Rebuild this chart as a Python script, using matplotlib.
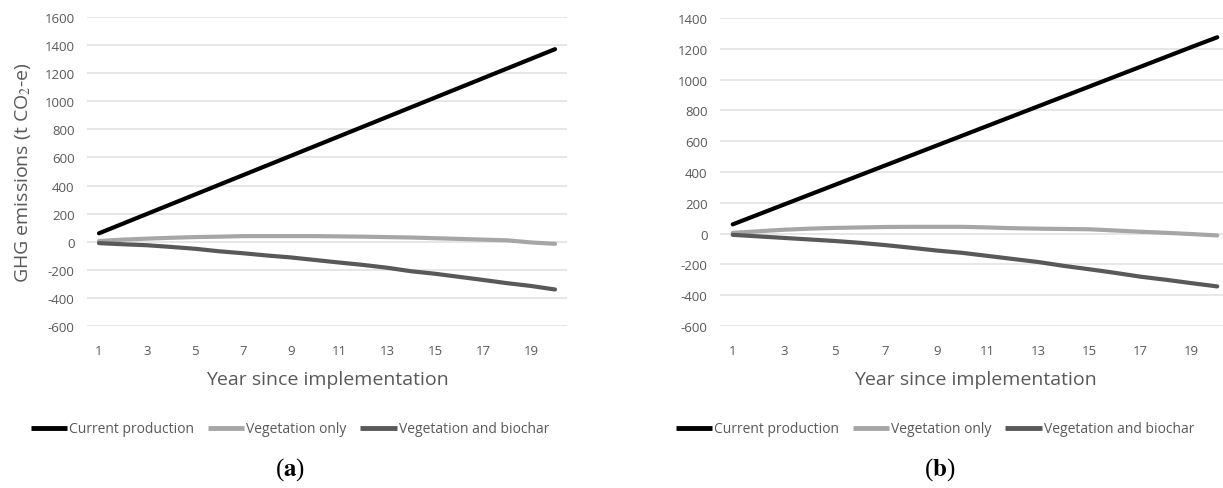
import numpy as np
import matplotlib.pyplot as plt
from matplotlib.lines import Line2D

# years since implementation
years = np.arange(1, 21)
tick_years = [1, 3, 5, 7, 9, 11, 13, 15, 17, 19]

# panel (a)
current_a = [60, 129, 198, 267, 336, 405, 474, 543, 612, 681,
             750, 819, 888, 957, 1026, 1095, 1164, 1233, 1302, 1371]
veg_a = [5, 15, 22, 28, 33, 36, 40, 40, 40, 40,
         38, 36, 33, 30, 25, 20, 15, 10, -5, -15]
biochar_a = [-10, -18, -25, -37, -50, -68, -82, -98, -112, -130,
             -148, -165, -185, -210, -228, -250, -272, -295, -315, -340]

# panel (b)
current_b = [60, 124, 188, 252, 316, 380, 444, 508, 572, 636,
             700, 764, 828, 892, 956, 1020, 1084, 1148, 1212, 1275]
veg_b = [5, 15, 25, 32, 37, 40, 43, 44, 44, 44,
         40, 35, 32, 30, 28, 20, 12, 5, -3, -12]
biochar_b = [-8, -18, -28, -38, -48, -60, -75, -92, -110, -125,
             -145, -165, -185, -210, -232, -255, -280, -300, -322, -343]

series_names = ['Current production', 'Vegetation only', 'Vegetation and biochar']
colors = ['#000000', '#a6a6a6', '#595959']

txt = '#595959'
plt.rcParams['font.family'] = ['Open Sans', 'DejaVu Sans']
plt.rcParams['mathtext.fontset'] = 'stix'
plt.rcParams['axes.unicode_minus'] = False

W, H = 1223, 489
fig = plt.figure(figsize=(W / 100, H / 100), dpi=100)


def px(x0, y_top, w, h):
    return [x0 / W, 1 - (y_top + h) / H, w / W, h / H]


def panel(rect, data, ylim, yticks):
    ax = fig.add_axes(rect)
    for vals, c in zip(data, colors):
        ax.plot(years, vals, color=c, lw=3.0, solid_capstyle='round', zorder=3)
    ax.set_xlim(0.5, 20.5)
    ax.set_ylim(*ylim)
    ax.set_yticks(yticks)
    ax.set_xticks(tick_years)
    ax.grid(axis='y', color='#e3e3e3', lw=1.2)
    ax.set_axisbelow(True)
    for s in ax.spines.values():
        s.set_visible(False)
    ax.tick_params(axis='both', length=0, colors=txt, labelsize=9.5)
    ax.tick_params(axis='y', pad=9)
    ax.tick_params(axis='x', pad=13)
    ax.set_xlabel('Year since implementation', fontsize=14, color=txt, labelpad=9)
    handles = [Line2D([], [], color=c, lw=3.5, solid_capstyle='butt') for c in colors]
    return ax, handles


ax_a, handles = panel(px(87, 18, 480, 309), [current_a, veg_a, biochar_a],
                      (-600, 1600), np.arange(-600, 1601, 200))
ax_a.set_ylabel('GHG emissions (t CO$_2$-e)', fontsize=14, color=txt, labelpad=8)

ax_b, _ = panel(px(720, 19, 510, 308), [current_b, veg_b, biochar_b],
                (-600, 1400), np.arange(-600, 1401, 200))

legend_kw = dict(handles=handles, labels=series_names, ncol=3, frameon=False,
                 handlelength=2.6, handletextpad=0.15, columnspacing=1.0,
                 loc='center', prop={'size': 10},
                 labelcolor=txt)
fig.legend(bbox_to_anchor=(290 / W, 1 - 430 / H), **legend_kw)
fig.legend(bbox_to_anchor=(935 / W, 1 - 430 / H), **legend_kw)

fig.text(290 / W, 1 - 470 / H, r'($\mathbf{a}$)', ha='center', va='center',
         fontsize=18, family='Liberation Serif')
fig.text(940 / W, 1 - 470 / H, r'($\mathbf{b}$)', ha='center', va='center',
         fontsize=18, family='Liberation Serif')

fig.savefig('out.png', dpi=100)
